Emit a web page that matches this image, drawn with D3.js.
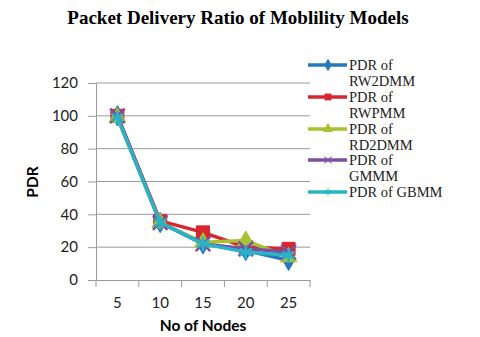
<!DOCTYPE html>
<html><head><meta charset="utf-8">
<script src="https://cdn.jsdelivr.net/npm/d3@7"></script>
<style>body{margin:0;background:#fff}</style>
</head><body>
<svg id="c" width="480" height="337"></svg>
<script>
const categories = ["5","10","15","20","25"];
const yTicks = [0,20,40,60,80,100,120];
const rw2dmm = [100,35,22,18,12];
const rwpmm  = [100,36,29,20,19];
const rd2dmm = [99,35,23,24,14];
const gmmm   = [100,35,22,19,17];
const gbmm   = [99,35,22,17,15];
const seriesNames = [["PDR of","RW2DMM"],["PDR of","RWPMM"],["PDR of","RD2DMM"],["PDR of","GMMM"],["PDR of GBMM"]];
const seriesData = [rw2dmm, rwpmm, rd2dmm, gmmm, gbmm];
const colors = ["#2878bd","#d8262e","#a9c232","#7a4f9f","#2ab3c6"];
const symbols = [d3.symbolDiamond, d3.symbolSquare, d3.symbolTriangle, d3.symbolX, d3.symbolAsterisk];

const svg = d3.select("#c");
const x = d3.scaleBand().domain(categories).range([96,310]).padding(0);
const y = d3.scaleLinear().domain([0,120]).range([280,83]);

svg.append("text").attr("x",238).attr("y",24).attr("text-anchor","middle")
  .attr("font-family","Liberation Serif").attr("font-weight","bold").attr("font-size",19)
  .text("Packet Delivery Ratio of Moblility Models");

// gridlines
svg.append("g").selectAll("line").data(yTicks.filter(d=>d>0)).join("line")
  .attr("x1",96).attr("x2",310).attr("y1",d=>y(d)).attr("y2",d=>y(d))
  .attr("stroke","#9a9a9a").attr("stroke-width",1);

const ya = svg.append("g").attr("transform","translate(96,0)")
  .call(d3.axisLeft(y).tickValues(yTicks).tickSize(8).tickPadding(10));
ya.select(".domain").attr("stroke","#9a9a9a");
ya.selectAll(".tick line").attr("stroke","#9a9a9a");
ya.selectAll("text").attr("font-family","Lato").attr("font-size",15).attr("fill","#222");

const xa = svg.append("g").attr("transform","translate(0,280)")
  .call(d3.axisBottom(x).tickSize(0).tickPadding(17));
xa.select(".domain").attr("stroke","#9a9a9a");
xa.selectAll("text").attr("font-family","Lato").attr("font-size",15).attr("fill","#222");
xa.append("g").selectAll("line").data(categories.concat(["end"])).join("line")
  .attr("x1",(d,i)=>96+i*x.step()).attr("x2",(d,i)=>96+i*x.step())
  .attr("y1",0).attr("y2",7).attr("stroke","#9a9a9a");

svg.append("text").attr("x",203).attr("y",331).attr("text-anchor","middle")
  .attr("font-family","Lato").attr("font-weight","bold").attr("font-size",15.5).text("No of Nodes");
svg.append("text").attr("transform","translate(38,182) rotate(-90)").attr("text-anchor","middle")
  .attr("font-family","Lato").attr("font-weight","bold").attr("font-size",15.5).text("PDR");

const line = d3.line().x((d,i)=>x(categories[i])+x.bandwidth()/2).y(d=>y(d));
seriesData.forEach((s,k)=>{
  const g = svg.append("g");
  g.append("path").attr("d",line(s)).attr("fill","none").attr("stroke",colors[k]).attr("stroke-width",3.5);
  g.selectAll("path.m").data(s).join("path").attr("class","m")
    .attr("transform",(d,i)=>`translate(${x(categories[i])+x.bandwidth()/2},${y(d)})`)
    .attr("d",d3.symbol().type(symbols[k]).size(k===1?170:k>=3?140:120))
    .attr("fill",colors[k]).attr("stroke",colors[k]).attr("stroke-width",k>=3?2.5:1);
});

// legend
const ly = [65,97,129,160,192];
seriesNames.forEach((nm,k)=>{
  const g = svg.append("g").attr("transform",`translate(0,${ly[k]})`);
  g.append("line").attr("x1",308).attr("x2",347).attr("y1",0).attr("y2",0).attr("stroke",colors[k]).attr("stroke-width",3.5);
  g.append("path").attr("transform","translate(328,0)").attr("d",d3.symbol().type(symbols[k]).size(35))
    .attr("fill",colors[k]).attr("stroke",colors[k]).attr("stroke-width",1);
  nm.forEach((t,j)=>{
    g.append("text").attr("x",349).attr("y",4.5+j*16.5).attr("font-family","Liberation Serif").attr("font-size",14.5).attr("fill","#222").text(t);
  });
});
</script>
</body></html>
